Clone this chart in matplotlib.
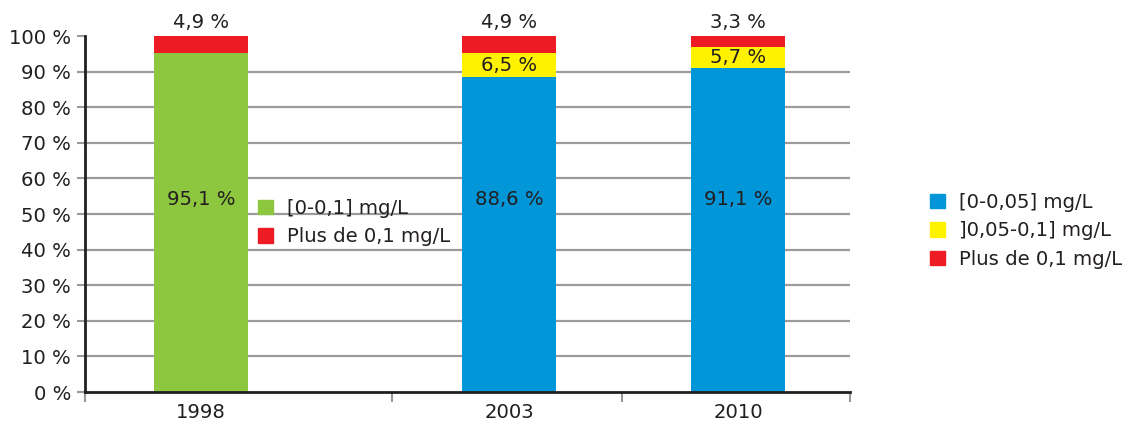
import matplotlib
matplotlib.use("Agg")
import matplotlib.pyplot as plt
from matplotlib.patches import Patch

plt.rcParams['font.family'] = ['DejaVu Sans']

categories = ['1998', '2003', '2010']
low = [95.1, 88.6, 91.1]          # [0-0,1] for 1998, [0-0,05] for others
mid = [0.0, 6.5, 5.7]             # ]0,05-0,1]
high = [4.9, 4.9, 3.3]            # Plus de 0,1 mg/L
low_labels = ['95,1 %', '88,6 %', '91,1 %']
mid_labels = ['', '6,5 %', '5,7 %']
high_labels = ['4,9 %', '4,9 %', '3,3 %']
yticks = list(range(0, 101, 10))

GREEN = '#8DC63F'
BLUE = '#0096D8'
YELLOW = '#FFF200'
RED = '#ED1C24'
TXT = '#231F20'
FS = 14.1

fig = plt.figure(figsize=(11.27, 4.21), dpi=100)
ax = fig.add_axes([85/1127, 29/421, 765/1127, 356/421])

xpos = [201, 509, 738]
width = 94
lowcolors = [GREEN, BLUE, BLUE]

for i in range(len(categories)):
    ax.bar(xpos[i], low[i], width, color=lowcolors[i], zorder=3)
    if mid[i] > 0:
        ax.bar(xpos[i], mid[i], width, bottom=low[i], color=YELLOW, zorder=3)
    ax.bar(xpos[i], high[i], width, bottom=low[i] + mid[i], color=RED, zorder=3)
    ax.text(xpos[i], 54.0, low_labels[i], ha='center', va='center', fontsize=FS, color=TXT, zorder=4)
    if mid_labels[i]:
        ax.text(xpos[i], low[i] + mid[i] / 2, mid_labels[i], ha='center', va='center', fontsize=FS, color=TXT, zorder=4)
    ax.text(xpos[i], 101.0, high_labels[i], ha='center', va='bottom', fontsize=FS, color=TXT, clip_on=False)

ax.set_xlim(85, 850)
ax.set_ylim(0, 100)
ax.set_yticks(yticks)
ax.set_yticklabels([f'{v} %' for v in yticks], fontsize=FS, color=TXT)
ax.set_xticks(xpos)
ax.set_xticklabels(categories, fontsize=FS, color=TXT)
ax.tick_params(axis='x', length=0, pad=8)
ax.set_xticks([85, 392, 622, 850], minor=True)
ax.tick_params(axis='x', which='minor', length=7, width=1.5, color='#999999', direction='out')
ax.tick_params(axis='y', length=6, width=1.5, color='#999999', pad=4)

for v in yticks[1:-1]:
    ax.axhline(v, color='#9B9B9B', lw=1.6, zorder=1)

for s in ['top', 'right']:
    ax.spines[s].set_visible(False)
for s in ['left', 'bottom']:
    ax.spines[s].set_linewidth(2)
    ax.spines[s].set_color(TXT)
    ax.spines[s].set_zorder(5)

legkw = dict(loc='upper left', frameon=False, fontsize=FS, handlelength=0.75, handleheight=0.75,
             handletextpad=0.75, labelspacing=0.48, borderaxespad=0, borderpad=0, labelcolor=TXT)

h1 = [Patch(color=GREEN), Patch(color=RED)]
leg1 = fig.legend(h1, ['[0-0,1] mg/L', 'Plus de 0,1 mg/L'],
                  bbox_to_anchor=(258/1127, 1 - 199/421), **legkw)
leg1.set_zorder(6)

h2 = [Patch(color=BLUE), Patch(color=YELLOW), Patch(color=RED)]
leg2 = fig.legend(h2, ['[0-0,05] mg/L', ']0,05-0,1] mg/L', 'Plus de 0,1 mg/L'],
                  bbox_to_anchor=(930/1127, 1 - 193/421), **legkw)

fig.savefig('out.png', dpi=100)
